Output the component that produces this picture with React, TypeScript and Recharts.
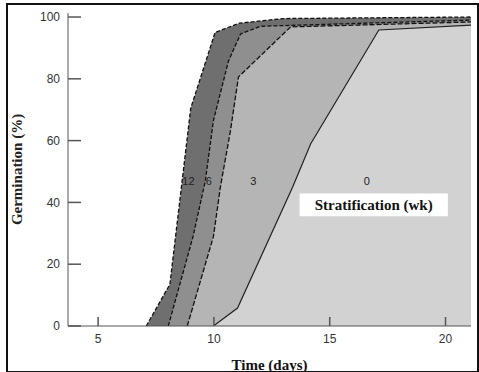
import React from "react";
import {
  AreaChart,
  Area,
  XAxis,
  YAxis,
  ReferenceDot,
  ReferenceArea,
} from "recharts";

// germination curves, one per stratification length (weeks)
const wk12 = [
  { x: 7.08, y: 0 },
  { x: 8.1, y: 13.5 },
  { x: 9.0, y: 70.5 },
  { x: 10.05, y: 95 },
  { x: 11.1, y: 98 },
  { x: 13, y: 99.5 },
  { x: 21.1, y: 100 },
];
const wk6 = [
  { x: 8.03, y: 0 },
  { x: 9.1, y: 29 },
  { x: 9.63, y: 47 },
  { x: 9.98, y: 66.5 },
  { x: 10.63, y: 85.8 },
  { x: 11.15, y: 94.5 },
  { x: 12.0, y: 97 },
  { x: 21.1, y: 99 },
];
const wk3 = [
  { x: 8.85, y: 0 },
  { x: 9.98, y: 29 },
  { x: 10.28, y: 45 },
  { x: 10.71, y: 63 },
  { x: 11.06, y: 80.6 },
  { x: 13.31, y: 96.8 },
  { x: 21.1, y: 98.4 },
];
const wk0 = [
  { x: 9.98, y: 0 },
  { x: 11.02, y: 5.8 },
  { x: 13.4, y: 45 },
  { x: 14.18, y: 59 },
  { x: 17.12, y: 95.8 },
  { x: 21.1, y: 97.4 },
];

const xTicks = [5, 10, 15, 20];
const yTicks = [0, 20, 40, 60, 80, 100];

const curveLabels = [
  { x: 8.9, y: 46.8, text: "12" },
  { x: 9.78, y: 46.8, text: "6" },
  { x: 11.7, y: 46.8, text: "3" },
  { x: 16.6, y: 46.8, text: "0" },
];

const serif = "'Liberation Serif', 'Times New Roman', serif";
const sans = "'Liberation Sans', Arial, sans-serif";

// ticks point into the plot, like the original figure
function renderYTick(props: any) {
  const { x, y, payload } = props;
  return (
    <g key={`y-${payload.value}`}>
      <line x1={x + 8} x2={x + 21} y1={y} y2={y} stroke="#555" strokeWidth={1.5} />
      <text
        x={x}
        y={y}
        dy="0.355em"
        textAnchor="end"
        fill="#333"
        fontSize={12}
        fontFamily={sans}
      >
        {payload.value}
      </text>
    </g>
  );
}

function renderXTick(props: any) {
  const { x, y, payload } = props;
  return (
    <g key={`x-${payload.value}`}>
      <line x1={x} x2={x} y1={y - 8} y2={y - 17} stroke="#555" strokeWidth={1.5} />
      <text
        x={x}
        y={y}
        dy="0.71em"
        textAnchor="middle"
        fill="#333"
        fontSize={12}
        fontFamily={sans}
      >
        {payload.value}
      </text>
    </g>
  );
}

export default function App() {
  return (
    <div
      style={{
        position: "fixed",
        left: 0,
        top: 0,
        width: 479,
        height: 372,
        background: "#fff",
      }}
    >
      <div
        style={{
          position: "absolute",
          left: 6,
          top: 3,
          width: 469,
          height: 366,
          border: "2px solid #111",
        }}
      />
      <AreaChart
        width={479}
        height={372}
        margin={{ top: 13, right: 8, bottom: 0, left: 8 }}
      >
        <Area
          data={wk12}
          dataKey="y"
          type="linear"
          fill="#6f6f6f"
          fillOpacity={1}
          stroke="#111"
          strokeWidth={1.3}
          strokeDasharray="4 2"
          isAnimationActive={false}
        />
        <Area
          data={wk6}
          dataKey="y"
          type="linear"
          fill="#8f8f8f"
          fillOpacity={1}
          stroke="#111"
          strokeWidth={1.3}
          strokeDasharray="4 2"
          isAnimationActive={false}
        />
        <Area
          data={wk3}
          dataKey="y"
          type="linear"
          fill="#b5b5b5"
          fillOpacity={1}
          stroke="#111"
          strokeWidth={1.3}
          strokeDasharray="5 2"
          isAnimationActive={false}
        />
        <Area
          data={wk0}
          dataKey="y"
          type="linear"
          fill="#d2d2d2"
          fillOpacity={1}
          stroke="#222"
          strokeWidth={1.2}
          isAnimationActive={false}
        />
        <XAxis
          dataKey="x"
          type="number"
          domain={[3.7, 21.1]}
          allowDataOverflow
          ticks={xTicks}
          tickLine={false}
          tickSize={6}
          tickMargin={2}
          height={46}
          stroke="#555"
          tick={renderXTick}
          label={{
            value: "Time (days)",
            position: "insideBottom",
            offset: 2,
            style: { fontFamily: serif, fontWeight: "bold", fontSize: 15, fill: "#111" },
          }}
        />
        <YAxis
          type="number"
          domain={[0, 101.3]}
          allowDataOverflow
          ticks={yTicks}
          tickLine={false}
          tickSize={6}
          tickMargin={2}
          width={60}
          stroke="#555"
          tick={renderYTick}
          label={{
            value: "Germination (%)",
            angle: -90,
            position: "insideLeft",
            offset: 9,
            style: {
              fontFamily: serif,
              fontWeight: "bold",
              fontSize: 15,
              fill: "#222",
              textAnchor: "middle",
            },
          }}
        />
        <XAxis
          xAxisId="top"
          orientation="top"
          type="number"
          domain={[3.7, 21.1]}
          tick={false}
          tickLine={false}
          height={0}
          stroke="#888"
        />
        <YAxis
          yAxisId="right"
          orientation="right"
          tick={false}
          tickLine={false}
          width={0}
          stroke="#222"
        />
        {curveLabels.map((c) => (
          <ReferenceDot
            key={c.text}
            x={c.x}
            y={c.y}
            r={0}
            stroke="none"
            label={{
              value: c.text,
              position: "center",
              style: { fontFamily: sans, fontSize: 11, fill: "#222" },
            }}
          />
        ))}
        <ReferenceArea
          x1={13.7}
          x2={20.1}
          y1={35.5}
          y2={42.9}
          fill="#fff"
          fillOpacity={1}
          stroke="none"
          label={{
            value: "Stratification (wk)",
            position: "center",
            style: { fontFamily: serif, fontWeight: "bold", fontSize: 15, fill: "#111" },
          }}
        />
      </AreaChart>
    </div>
  );
}
